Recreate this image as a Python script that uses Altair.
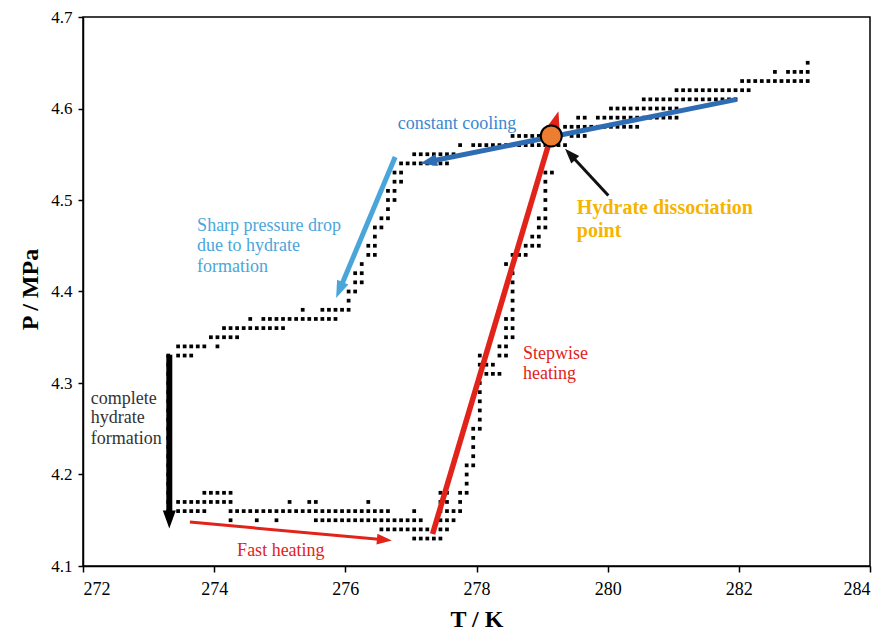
import math
import altair as alt
import pandas as pd

# ---------------- data ----------------
x_ticks = [272, 274, 276, 278, 280, 282, 284]
y_ticks = [4.1, 4.2, 4.3, 4.4, 4.5, 4.6, 4.7]

# pressure level (MPa) and the temperatures (K) recorded at that level
pressure_levels = [
    4.65, 4.64, 4.63, 4.62, 4.61, 4.60, 4.59, 4.58, 4.57, 4.56,
    4.55, 4.54, 4.53, 4.52, 4.51, 4.50, 4.49, 4.48, 4.47, 4.46,
    4.45, 4.44, 4.43, 4.42, 4.41, 4.40, 4.39, 4.38, 4.37, 4.36,
    4.35, 4.34, 4.33, 4.32, 4.31, 4.30, 4.29, 4.28, 4.27, 4.26,
    4.25, 4.24, 4.23, 4.22, 4.21, 4.20, 4.19, 4.18, 4.17, 4.16,
    4.15, 4.14, 4.13,
]
temperature_rows = [
    [283.05],
    [282.55, 282.75, 282.85, 282.95, 283.05],
    [282.05, 282.15, 282.25, 282.35, 282.45, 282.55, 282.65, 282.75, 282.85, 282.95, 283.05],
    [281.05, 281.15, 281.25, 281.35, 281.45, 281.55, 281.65, 281.75, 281.85, 281.95, 282.05, 282.15],
    [280.55, 280.65, 280.75, 280.85, 280.95, 281.05, 281.15, 281.25, 281.35, 281.45, 281.55,
     281.65, 281.75, 281.85, 281.95],
    [280.05, 280.15, 280.25, 280.35, 280.45, 280.55, 280.65, 280.75, 280.85, 280.95, 281.05],
    [279.55, 279.65, 279.85, 279.95, 280.05, 280.15, 280.25, 280.35, 280.45, 280.55, 280.65,
     280.75, 280.85, 280.95, 281.05],
    [279.35, 279.45, 279.55, 279.65, 279.75, 279.85, 279.95, 280.05, 280.15, 280.25, 280.35, 280.45],
    [278.55, 278.65, 278.75, 278.85, 278.95, 279.45, 279.55, 279.65],
    [277.75, 277.95, 278.05, 278.15, 278.25, 278.35, 278.45, 278.55, 278.65, 278.75, 278.85,
     278.95, 279.05, 279.25, 279.35],
    [277.05, 277.15, 277.25, 277.35, 277.45, 277.55, 277.65],
    [276.85, 276.95, 277.05, 277.15, 277.25, 277.35, 277.45, 277.55],
    [276.75, 276.85, 279.05, 279.15],
    [276.75, 276.85, 279.05],
    [276.65, 276.75, 279.05],
    [276.65, 276.75, 279.05],
    [276.65, 279.05],
    [276.55, 276.65, 278.95, 279.05],
    [276.45, 276.55, 278.95, 279.05],
    [276.45, 278.85, 278.95],
    [276.35, 276.45, 278.75, 278.85, 278.95],
    [276.35, 276.45, 278.55, 278.65, 278.75],
    [276.25, 278.45],
    [276.15, 276.25, 278.55],
    [276.15, 276.25, 278.55],
    [276.05, 276.15, 278.55],
    [276.05, 278.55],
    [275.35, 275.65, 275.75, 275.85, 275.95, 276.05, 278.55],
    [274.55, 274.75, 274.85, 274.95, 275.05, 275.15, 275.25, 275.35, 275.45, 275.55, 275.65,
     275.75, 275.85, 278.45, 278.55],
    [274.15, 274.25, 274.35, 274.45, 274.55, 274.65, 274.75, 274.85, 274.95, 275.05,
     278.45, 278.55],
    [273.95, 274.05, 274.15, 274.25, 274.35, 278.45, 278.55],
    [273.45, 273.55, 273.65, 273.75, 273.85, 274.05, 278.35, 278.45],
    [273.3, 273.45, 273.55, 273.65, 278.05, 278.35, 278.45],
    [273.3, 278.05, 278.15, 278.25],
    [273.3, 278.15, 278.25, 278.35],
    [273.3, 278.05],
    [273.3, 278.05],
    [273.3, 278.05],
    [273.3, 278.05],
    [273.3, 278.05],
    [273.3, 277.95, 278.05],
    [273.3, 277.95],
    [273.3, 277.95],
    [273.3, 277.95],
    [273.3, 277.85, 277.95],
    [273.3, 277.85],
    [273.3, 277.85],
    [273.3, 273.85, 273.95, 274.05, 274.15, 274.25, 277.45, 277.55, 277.75, 277.85],
    [273.3, 273.45, 273.55, 273.65, 273.75, 273.85, 273.95, 274.05, 274.15, 274.25,
     275.15, 275.45, 275.55, 276.35, 277.45, 277.55, 277.75],
    [273.3, 273.45, 273.55, 273.65, 273.75, 273.85,
     274.25, 274.35, 274.45, 274.55, 274.65, 274.75, 274.85, 274.95, 275.05, 275.15, 275.25,
     275.35, 275.45, 275.55, 275.65, 275.75, 275.85, 275.95, 276.05, 276.15, 276.25, 276.35,
     276.45, 276.55, 276.65, 277.05, 277.45, 277.55, 277.65, 277.75],
    [274.25, 274.65, 274.95, 275.55, 275.65, 275.75, 275.85, 275.95, 276.05, 276.15, 276.25,
     276.35, 276.45, 276.55, 276.65, 276.75, 276.85, 276.95, 277.05, 277.15,
     277.45, 277.55, 277.65],
    [276.55, 276.65, 276.75, 276.85, 276.95, 277.05, 277.15, 277.25, 277.35, 277.45, 277.55],
    [277.05, 277.15, 277.25, 277.35, 277.45],
]

# dissociation point
dissociation_T = [279.14]
dissociation_P = [4.570]

# ---------------- annotation geometry (data coordinates) ----------------
arrow_specs = [
    # tail T, tail P, tip T, tip P, colour, line width, head length (px)
    (281.97, 4.610, 277.14, 4.540, "#2E6DB4", 5.0, 17),   # constant cooling
    (276.76, 4.547, 275.86, 4.393, "#4AA6DA", 5.0, 17),   # sharp pressure drop
    (273.316, 4.331, 273.316, 4.141, "#000000", 6.0, 18),  # complete hydrate formation
    (273.63, 4.148, 276.71, 4.128, "#E2231A", 3.0, 15),   # fast heating
    (277.33, 4.135, 279.25, 4.597, "#E2231A", 5.5, 18),   # stepwise heating
    (280.01, 4.505, 279.35, 4.556, "#111111", 3.0, 15),   # pointer to dissociation point
]

normal_labels = [
    ("constant cooling", 276.80, 4.583, "#3B87CF"),
    ("Sharp pressure drop", 273.74, 4.4715, "#4AA6DA"),
    ("due to hydrate", 273.74, 4.4498, "#4AA6DA"),
    ("formation", 273.74, 4.4271, "#4AA6DA"),
    ("complete", 272.12, 4.283, "#333333"),
    ("hydrate", 272.12, 4.2614, "#333333"),
    ("formation", 272.12, 4.2386, "#333333"),
    ("Fast heating", 274.35, 4.1162, "#E2231A"),
    ("Stepwise", 278.71, 4.3318, "#E2231A"),
    ("heating", 278.71, 4.3101, "#E2231A"),
]
bold_labels = [
    ("Hydrate dissociation", 279.53, 4.491, "#F5B400"),
    ("point", 279.53, 4.4661, "#F5B400"),
]

# ---------------- build ----------------
W, H = 787, 549
x_min, x_max = 272, 284
y_min, y_max = 4.1, 4.7
kx = W / (x_max - x_min)
ky = H / (y_max - y_min)

pts = pd.DataFrame(
    [(t, p) for p, row in zip(pressure_levels, temperature_rows) for t in row],
    columns=["T", "P"],
)

rows = []
for (t1, p1, t2, p2, col, w, hl) in arrow_specs:
    dx = (t2 - t1) * kx
    dy = -(p2 - p1) * ky
    L = math.hypot(dx, dy)
    back = hl * 0.7 / L
    rows.append(dict(
        T1=t1, P1=p1, T2=t2, P2=p2,
        T2s=t2 - (t2 - t1) * back, P2s=p2 - (p2 - p1) * back,
        color=col, w=w, size=hl * hl,
        angle=math.degrees(math.atan2(dx, -dy)) % 360,
    ))
arrows = pd.DataFrame(rows)

xs = alt.Scale(domain=[x_min, x_max], nice=False, zero=False)
ys = alt.Scale(domain=[y_min, y_max], nice=False, zero=False)

x_axis = alt.Axis(
    values=x_ticks, format="d", title="T / K", grid=False,
    labelFont="Liberation Serif", labelFontSize=18, labelColor="black",
    titleFont="Liberation Serif", titleFontSize=24, titleFontWeight="bold",
    titleColor="black", tickSize=6, tickColor="black", labelPadding=8,
    domainColor="black", domainWidth=1.5, tickWidth=1.5,
    titleY=60, titleBaseline="alphabetic",
)
y_axis = alt.Axis(
    values=y_ticks, format=".1f", title="P / MPa", grid=False,
    labelFont="Liberation Serif", labelFontSize=17, labelColor="black",
    titleFont="Liberation Serif", titleFontSize=24, titleFontWeight="bold",
    titleColor="black", tickSize=5, tickColor="black", labelPadding=6,
    domainColor="black", domainWidth=1.5, tickWidth=1.5,
    titleX=-41, titleY=272, titleAngle=270, titleBaseline="bottom", titleAlign="center",
)

dots = alt.Chart(pts).mark_square(size=14, color="black", opacity=1).encode(
    x=alt.X("T:Q", scale=xs, axis=x_axis),
    y=alt.Y("P:Q", scale=ys, axis=y_axis),
)

lines = alt.Chart(arrows).mark_rule(strokeCap="butt").encode(
    x="T1:Q", y="P1:Q", x2="T2s:Q", y2="P2s:Q",
    color=alt.Color("color:N", scale=None),
    strokeWidth=alt.StrokeWidth("w:Q", scale=None),
)

heads = alt.Chart(arrows).mark_point(
    shape="M0,0L0.72,2L-0.72,2Z", filled=True, opacity=1, strokeWidth=0
).encode(
    x="T2:Q", y="P2:Q",
    color=alt.Color("color:N", scale=None),
    size=alt.Size("size:Q", scale=None),
    angle=alt.Angle("angle:Q", scale=None),
)

circle = alt.Chart(pd.DataFrame({"T": dissociation_T, "P": dissociation_P})).mark_circle(
    color="#ED7D31", stroke="black", strokeWidth=2, opacity=1, size=440
).encode(x="T:Q", y="P:Q")

df_norm = pd.DataFrame(normal_labels, columns=["label", "T", "P", "color"])
df_bold = pd.DataFrame(bold_labels, columns=["label", "T", "P", "color"])

txt_norm = alt.Chart(df_norm).mark_text(
    align="left", baseline="middle", font="Liberation Serif", fontSize=18
).encode(x="T:Q", y="P:Q", text="label:N", color=alt.Color("color:N", scale=None))

txt_bold = alt.Chart(df_bold).mark_text(
    align="left", baseline="middle", font="Liberation Serif", fontSize=20, fontWeight="bold"
).encode(x="T:Q", y="P:Q", text="label:N", color=alt.Color("color:N", scale=None))

chart = alt.layer(dots, lines, heads, circle, txt_norm, txt_bold).properties(
    width=W, height=H,
    autosize=alt.AutoSizeParams(type="none"),
    padding={"left": 75, "top": 9, "right": 11, "bottom": 65},
    background="white",
).configure_view(stroke="black", strokeWidth=1.5)

chart.save("out.html", embed_options={"renderer": "svg", "actions": False})
